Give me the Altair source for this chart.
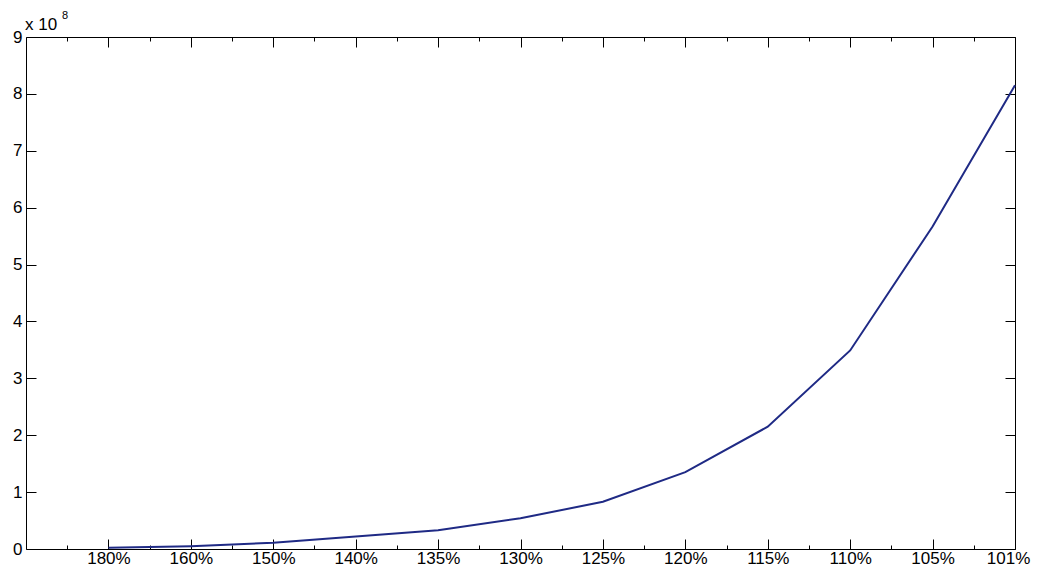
import altair as alt
import pandas as pd
import json

categories = ["180%", "160%", "150%", "140%", "135%", "130%", "125%", "120%", "115%", "110%", "105%", "101%"]
positions = [1, 2, 3, 4, 5, 6, 7, 8, 9, 10, 11, 12]
values_e8 = [0.02, 0.05, 0.11, 0.22, 0.33, 0.54, 0.83, 1.35, 2.15, 3.49, 5.67, 8.15]
y_ticks = [0, 1, 2, 3, 4, 5, 6, 7, 8, 9]
minor_ticks = [0.5, 1.5, 2.5, 3.5, 4.5, 5.5, 6.5, 7.5, 8.5, 9.5, 10.5, 11.5]

df = pd.DataFrame({"pos": positions, "val": values_e8, "cat": categories})

FONT = "Liberation Sans"
label_expr = json.dumps(categories) + "[round(datum.value) - 1]"

xscale = alt.Scale(domain=[0, 12], nice=False, zero=False)
yscale = alt.Scale(domain=[0, 9], nice=False)

common_axis = dict(domain=False, grid=False, tickColor="#000000", tickWidth=1,
                   labelFont=FONT, labelColor="#000000")

x_bottom = alt.Axis(orient="bottom", values=positions, labelExpr=label_expr,
                    tickSize=10, offset=-10, labelPadding=1, labelFontSize=17,
                    labelOffset={"condition": {"test": "datum.value == 12", "value": -7}, "value": 0},
                    title=None, labelFlush=False, **common_axis)
x_top = alt.Axis(orient="top", values=positions, labels=False, tickSize=10,
                 offset=-10, title=None, **common_axis)
x_bottom_minor = alt.Axis(orient="bottom", values=minor_ticks, labels=False,
                          tickSize=4, offset=-4, title=None, **common_axis)
x_top_minor = alt.Axis(orient="top", values=minor_ticks, labels=False,
                       tickSize=4, offset=-4, title=None, **common_axis)
y_left = alt.Axis(orient="left", values=y_ticks, format="d", tickSize=10,
                  offset=-10, labelPadding=4, labelFontSize=17, title=None,
                  labelFlush=False, **common_axis)
y_right = alt.Axis(orient="right", values=y_ticks, labels=False, tickSize=10,
                   offset=-10, title=None, **common_axis)

base = alt.Chart(df)

line = base.mark_line(color="#1f2a85", strokeWidth=2).encode(
    x=alt.X("pos:Q", scale=xscale, axis=x_bottom),
    y=alt.Y("val:Q", scale=yscale, axis=y_left),
)
ghost2 = base.mark_line(opacity=0).encode(
    x=alt.X("pos:Q", scale=xscale, axis=x_top),
    y=alt.Y("val:Q", scale=yscale, axis=y_right),
)
ghost3 = base.mark_line(opacity=0).encode(
    x=alt.X("pos:Q", scale=xscale, axis=x_bottom_minor),
    y=alt.Y("val:Q", scale=yscale, axis=None),
)
ghost4 = base.mark_line(opacity=0).encode(
    x=alt.X("pos:Q", scale=xscale, axis=x_top_minor),
    y=alt.Y("val:Q", scale=yscale, axis=None),
)

exp_base = alt.Chart(pd.DataFrame({"t": ["x 10"]})).mark_text(
    font=FONT, fontSize=17, align="left", baseline="alphabetic", color="#000000"
).encode(text="t:N", x=alt.value(-1), y=alt.value(-7))
exp_sup = alt.Chart(pd.DataFrame({"t": ["8"]})).mark_text(
    font=FONT, fontSize=11, align="left", baseline="alphabetic", color="#000000"
).encode(text="t:N", x=alt.value(36), y=alt.value(-18))

chart = alt.layer(ghost3, ghost4, ghost2, line, exp_base, exp_sup).resolve_axis(
    x="independent", y="independent"
).properties(
    width=989, height=512,
    autosize=alt.AutoSizeParams(type="none"),
    padding={"left": 18, "top": 29, "right": 16, "bottom": 17},
    background="#ffffff",
).configure_view(stroke="#000000", strokeWidth=1)

chart.save("out.html", embed_options={"renderer": "svg", "actions": False})
